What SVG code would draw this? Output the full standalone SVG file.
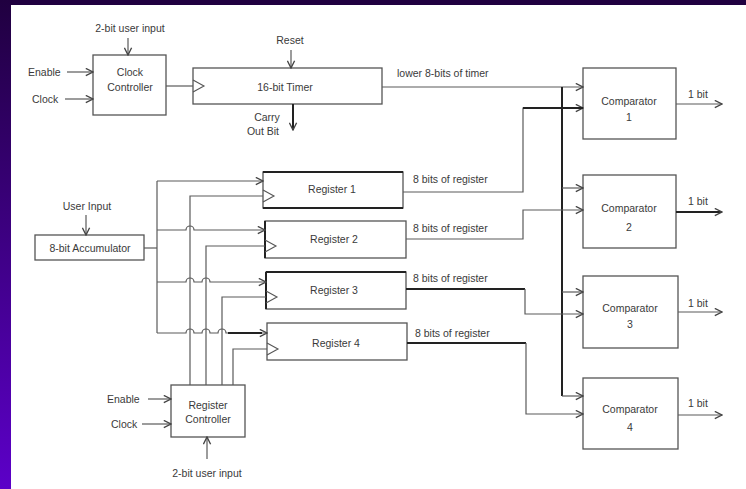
<svg xmlns="http://www.w3.org/2000/svg" width="746" height="489" viewBox="0 0 746 489">
<defs>
<linearGradient id="side" x1="0" y1="0" x2="0" y2="1">
<stop offset="0" stop-color="#200040"/>
<stop offset="1" stop-color="#5c00c8"/>
</linearGradient>
<marker id="arr" viewBox="0 0 10 10" refX="9" refY="5" markerWidth="9" markerHeight="9" markerUnits="userSpaceOnUse" orient="auto">
<path d="M1,1 L9,5 L1,9" fill="none" stroke="#444" stroke-width="1.5"/>
</marker>
<style>
.box{fill:#fff;stroke:#555;stroke-width:1.3}
.w{fill:none;stroke:#5a5a5a;stroke-width:1.2}
.k{fill:none;stroke:#222;stroke-width:2}
.t{font-family:"Liberation Sans",Arial,sans-serif;font-size:10.5px;fill:#3a3a3a}
.c{text-anchor:middle}
.clk{fill:none;stroke:#555;stroke-width:1.1}
</style>
</defs>
<rect x="0" y="0" width="746" height="489" fill="#fff"/>
<rect x="0" y="0" width="746" height="5" fill="#200040"/>
<rect x="0" y="0" width="11" height="489" fill="url(#side)"/>

<g id="clock-controller">
<rect class="box" x="93" y="55" width="73" height="60"/>
<text class="t c" x="130" y="76">Clock</text>
<text class="t c" x="130" y="91">Controller</text>
</g>
<g id="timer">
<rect class="box" x="193" y="68" width="189" height="36"/>
<path class="clk" d="M193,80 L204,86 L193,92"/>
<text class="t c" x="285" y="91">16-bit Timer</text>
</g>
<g id="accumulator">
<rect class="box" x="35" y="235" width="109" height="25"/>
<text class="t c" x="90" y="252">8-bit Accumulator</text>
</g>
<g id="register1">
<rect class="box" x="263" y="172" width="140" height="36"/>
<path class="k" d="M263,172 H403 M263,208 H403" stroke-width="1.8"/>
<path class="clk" d="M263,190 L274,196 L263,202"/>
<text class="t c" x="332" y="193">Register 1</text>
</g>
<g id="register2">
<rect class="box" x="265" y="221" width="141" height="37"/>
<path class="k" d="M265,221 V258" stroke-width="1.8"/>
<path class="clk" d="M265,240 L276,246 L265,252"/>
<text class="t c" x="334" y="243">Register 2</text>
</g>
<g id="register3">
<rect class="box" x="266" y="272" width="140" height="37"/>
<path class="k" d="M266,272 H406 M266,272 V309" stroke-width="1.8"/>
<path class="clk" d="M266,291 L277,297 L266,303"/>
<text class="t c" x="334" y="294">Register 3</text>
</g>
<g id="register4">
<rect class="box" x="267" y="323" width="140" height="37"/>
<path class="clk" d="M267,343 L278,349 L267,355"/>
<text class="t c" x="336" y="347">Register 4</text>
</g>
<g id="register-controller">
<rect class="box" x="171" y="385" width="74" height="52"/>
<text class="t c" x="208" y="409">Register</text>
<text class="t c" x="208" y="423">Controller</text>
</g>
<g id="comparator1">
<rect class="box" x="583" y="68" width="93" height="71"/>
<text class="t c" x="629" y="105">Comparator</text>
<text class="t c" x="629" y="121">1</text>
</g>
<g id="comparator2">
<rect class="box" x="583" y="175" width="93" height="73"/>
<text class="t c" x="629" y="212">Comparator</text>
<text class="t c" x="629" y="231">2</text>
</g>
<g id="comparator3">
<rect class="box" x="583" y="276" width="95" height="72"/>
<text class="t c" x="630" y="312">Comparator</text>
<text class="t c" x="630" y="328">3</text>
</g>
<g id="comparator4">
<rect class="box" x="583" y="378" width="95" height="71"/>
<text class="t c" x="630" y="413">Comparator</text>
<text class="t c" x="630" y="431">4</text>
</g>

<g id="labels">
<text class="t c" x="130" y="32">2-bit user input</text>
<text class="t" x="28" y="76">Enable</text>
<text class="t" x="32" y="103">Clock</text>
<text class="t c" x="290" y="44">Reset</text>
<text class="t c" x="267" y="121">Carry</text>
<text class="t c" x="263" y="135">Out Bit</text>
<text class="t" x="397" y="77">lower 8-bits of timer</text>
<text class="t c" x="87" y="210">User Input</text>
<text class="t" x="413" y="183">8 bits of register</text>
<text class="t" x="413" y="232">8 bits of register</text>
<text class="t" x="413" y="282">8 bits of register</text>
<text class="t" x="415" y="337">8 bits of register</text>
<text class="t" x="688" y="98">1 bit</text>
<text class="t" x="688" y="205">1 bit</text>
<text class="t" x="688" y="307">1 bit</text>
<text class="t" x="688" y="407">1 bit</text>
<text class="t" x="107" y="403">Enable</text>
<text class="t" x="111" y="428">Clock</text>
<text class="t c" x="207" y="477">2-bit user input</text>
</g>

<g id="connectors">
<!-- clock controller inputs -->
<path class="w" d="M128,38 V55" marker-end="url(#arr)"/>
<path class="w" d="M67,72 H93" marker-end="url(#arr)"/>
<path class="w" d="M65,99 H93" marker-end="url(#arr)"/>
<path class="w" d="M166,86 H193"/>
<!-- timer -->
<path class="w" d="M291,50 V68" marker-end="url(#arr)"/>
<path class="k" d="M293,104 V130" stroke-width="1.6" marker-end="url(#arr)"/>
<path class="w" d="M382,87 H583" marker-end="url(#arr)"/>
<!-- bus to comparators -->
<path class="k" d="M562,87 V396"/>
<path class="w" d="M562,188 H583" marker-end="url(#arr)"/>
<path class="w" d="M562,292 H583" marker-end="url(#arr)"/>
<path class="w" d="M562,396 H583" marker-end="url(#arr)"/>
<!-- register outputs -->
<path class="w" d="M403,192 H523 V108 H583" marker-end="url(#arr)"/>
<path class="k" d="M523,108 H583" stroke-width="1.6"/>
<path class="w" d="M406,239 H523 V210 H583" marker-end="url(#arr)"/>
<path class="k" d="M406,289 H525" stroke-width="1.6"/>
<path class="w" d="M525,289 V314 H583" marker-end="url(#arr)"/>
<path class="k" d="M407,343 H526" stroke-width="1.6"/>
<path class="w" d="M526,343 V414 H583" marker-end="url(#arr)"/>
<!-- comparator outputs -->
<path class="w" d="M676,104 H722" marker-end="url(#arr)"/>
<path class="k" d="M676,212 H722" stroke-width="1.6" marker-end="url(#arr)"/>
<path class="w" d="M678,312 H722" marker-end="url(#arr)"/>
<path class="w" d="M678,415 H722" marker-end="url(#arr)"/>
<!-- accumulator -->
<path class="w" d="M86,215 V235" marker-end="url(#arr)"/>
<path class="w" d="M144,248 H157"/>
<path class="w" d="M157,181 V333"/>
<path class="w" d="M157,181 H263" marker-end="url(#arr)"/>
<path class="w" d="M157,230 H186 A4,4 0 0 1 194,230 H265" marker-end="url(#arr)"/>
<path class="w" d="M157,282 H186 A4,4 0 0 1 194,282 H202 A4,4 0 0 1 210,282 H266" marker-end="url(#arr)"/>
<path class="w" d="M157,333 H186 A4,4 0 0 1 194,333 H202 A4,4 0 0 1 210,333 H218 A4,4 0 0 1 226,333 H267" marker-end="url(#arr)"/>
<path class="k" d="M228,333 H262" stroke-width="1.6"/>
<!-- register controller clocks -->
<path class="w" d="M190,385 V196 H263"/>
<path class="w" d="M206,385 V246 H265"/>
<path class="w" d="M222,385 V297 H266"/>
<path class="w" d="M233,385 V349 H267"/>
<!-- register controller inputs -->
<path class="w" d="M148,399 H171" marker-end="url(#arr)"/>
<path class="w" d="M142,424 H171" marker-end="url(#arr)"/>
<path class="w" d="M207,459 V437" marker-end="url(#arr)"/>
</g>
</svg>
